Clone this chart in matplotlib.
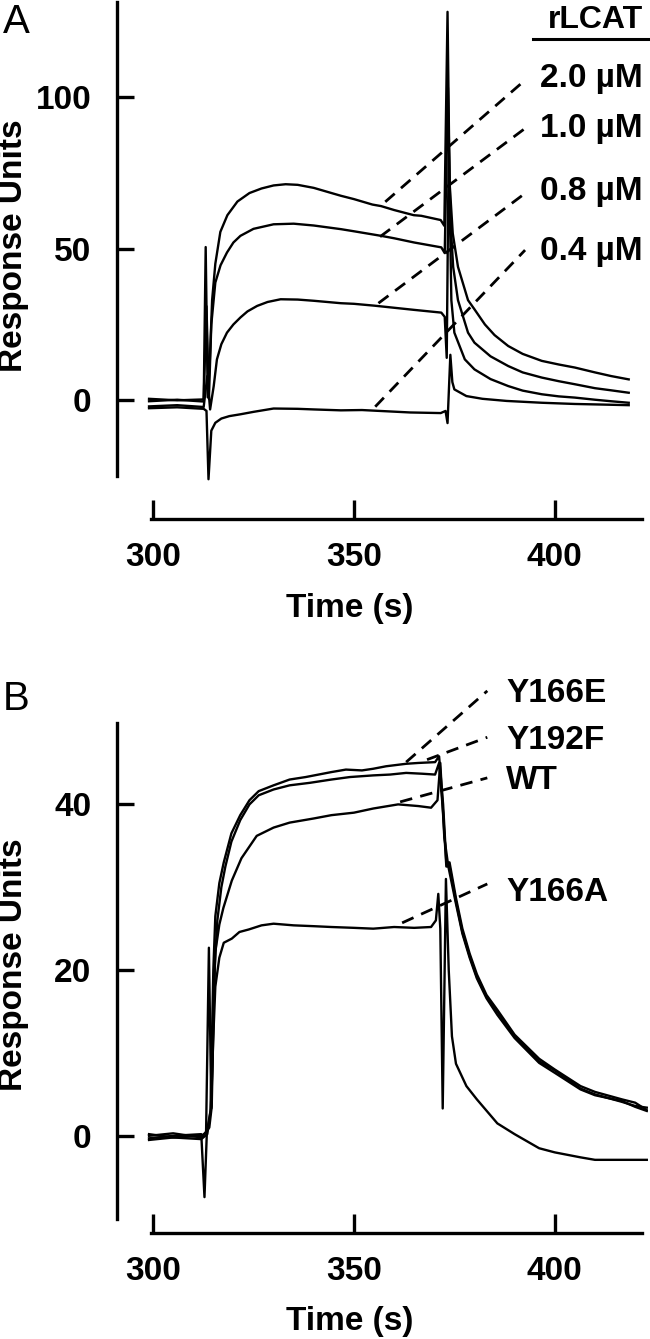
import matplotlib
matplotlib.use("Agg")
import matplotlib.pyplot as plt

plt.rcParams['font.family'] = ['Liberation Sans', 'DejaVu Sans']
plt.rcParams['lines.scale_dashes'] = False

# ---------------- datos: panel A (rLCAT) ----------------
a20_t = [299.0, 306.0, 312.6, 313.1, 313.6, 314.1, 314.7, 315.5, 316.75, 318.5, 321.0, 324.0, 327.0,
         330.0, 333.0, 336.0, 340.0, 344.4, 346.75, 350.0, 354.6, 356.75, 360.0, 364.9, 366.75, 371.6,
         372.5, 373.3, 373.8, 374.6, 375.9, 378.4, 380.0, 382.6, 385.0, 388.4, 392.0, 396.75, 401.0,
         405.0, 410.0, 414.0, 418.4]
a20_v = [-0.3, 0.2, -0.4, 50.5, 1.0, 12.0, 33.0, 45.0, 55.5, 61.0, 65.5, 68.3, 69.8,
         70.8, 71.2, 71.0, 70.0, 68.3, 67.4, 66.3, 64.5, 64.0, 62.7, 61.0, 60.8, 59.4,
         57.5, 128.0, 72.0, 55.0, 44.0, 33.0, 30.0, 25.0, 21.5, 17.9, 15.3, 13.0, 11.8,
         10.8, 9.2, 8.0, 6.9]

a10_t = [299.0, 306.0, 312.6, 313.3, 313.9, 314.5, 315.5, 316.8, 318.4, 320.0, 321.75, 325.0, 330.0,
         335.0, 340.0, 346.75, 350.0, 356.75, 360.0, 365.0, 371.75, 372.6, 373.4, 374.0, 374.7, 375.9,
         378.4, 380.0, 384.0, 388.4, 392.0, 396.75, 401.0, 405.0, 410.0, 414.0, 418.4]
a10_v = [0.5, 0.0, 0.3, 31.0, 0.5, 25.0, 38.8, 44.5, 48.7, 52.0, 54.2, 56.5, 58.0,
         58.2, 57.6, 56.4, 55.7, 54.2, 53.4, 52.0, 50.4, 48.5, 103.0, 60.0, 44.0, 33.0,
         22.3, 19.0, 14.5, 11.3, 9.2, 7.5, 6.3, 5.3, 4.0, 3.3, 2.5]

a08_t = [299.0, 306.0, 312.6, 313.5, 314.2, 315.1, 315.9, 317.0, 318.4, 320.0, 321.75, 323.5, 325.9,
         328.5, 331.75, 336.0, 340.0, 346.75, 350.0, 355.0, 360.0, 365.0, 371.75, 372.6, 373.1, 373.6,
         374.25, 375.0, 377.6, 380.0, 384.0, 388.4, 392.0, 396.75, 401.0, 405.0, 410.0, 414.0, 418.4]
a08_v = [-2.0, -1.6, -2.2, 8.0, -3.0, 4.7, 13.5, 18.5, 22.3, 25.0, 27.3, 29.3, 31.1,
         32.4, 33.3, 33.2, 32.8, 32.0, 31.8, 31.2, 30.5, 29.8, 28.9, 27.5, 14.0, 85.0,
         33.0, 22.3, 13.5, 10.2, 7.0, 4.7, 3.2, 2.0, 1.3, 0.9, 0.2, -0.3, -0.8]

a04_t = [299.0, 306.0, 312.6, 313.3, 313.8, 314.5, 315.5, 317.0, 319.0, 321.75, 325.0, 330.0, 336.0,
         340.0, 346.75, 352.0, 358.0, 364.0, 371.6, 372.8, 373.3, 374.0, 374.5, 375.0, 378.0, 382.0,
         388.0, 396.75, 405.0, 412.0, 418.4]
a04_v = [-2.6, -2.3, -2.8, -3.5, -26.0, -10.0, -7.4, -6.0, -5.2, -4.6, -3.8, -2.7, -2.8,
         -3.0, -3.3, -3.2, -3.6, -4.0, -4.2, -3.5, -7.5, 15.0, 6.0, 3.6, 1.4, 0.5,
         -0.2, -0.8, -1.2, -1.4, -1.6]

a_labels = ['2.0 \u00b5M', '1.0 \u00b5M', '0.8 \u00b5M', '0.4 \u00b5M']
# líneas guía (curva -> etiqueta)
a_lead_t = [(357.8, 392.6), (356.5, 392.6), (356.1, 392.6), (355.3, 392.6)]
a_lead_v = [(65.4, 105.5), (53.9, 89.6), (32.0, 68.2), (-2.1, 49.5)]

# ---------------- datos: panel B (mutantes) ----------------
b166e_t = [299.0, 305.0, 312.0, 312.8, 313.4, 314.3, 315.0, 315.5, 316.5, 317.6, 319.5, 321.7, 324.0,
           326.3, 330.0, 334.0, 338.0, 344.4, 348.0, 352.0, 354.8, 358.0, 363.0, 366.0, 370.2, 371.2,
           372.2, 373.0, 373.8, 375.4, 377.0, 378.8, 380.6, 383.0, 385.7, 390.0, 396.1, 400.0, 406.4,
           410.0, 416.7, 420.0, 422.9]
b166e_v = [-0.3, 0.0, 0.2, -7.4, 0.5, 3.0, 20.0, 26.5, 30.5, 33.0, 36.5, 38.7, 40.5,
           41.6, 42.3, 43.0, 43.3, 43.9, 44.2, 44.1, 44.3, 44.6, 44.9, 45.0, 45.1, 45.8,
           40.0, 33.0, 33.0, 28.7, 25.0, 22.0, 19.5, 17.0, 15.2, 12.2, 9.3, 8.0, 6.0,
           5.3, 4.4, 4.0, 3.1]

b192f_t = [299.0, 305.0, 312.0, 313.0, 314.0, 314.6, 315.3, 316.0, 317.0, 318.0, 319.5, 321.7, 324.0,
           326.3, 330.0, 334.0, 339.0, 344.4, 349.0, 354.8, 359.0, 363.0, 367.0, 370.2, 371.2, 372.2,
           373.0, 373.8, 375.4, 377.0, 378.8, 380.6, 383.0, 385.7, 390.0, 396.1, 400.0, 406.4, 410.0,
           416.7, 420.0, 422.9]
b192f_v = [0.2, -0.2, 0.0, 0.3, 1.0, 3.5, 20.0, 26.0, 30.0, 32.5, 35.5, 38.1, 40.0,
           41.1, 41.8, 42.3, 42.6, 43.0, 43.3, 43.5, 43.6, 43.8, 43.7, 43.6, 45.0, 39.0,
           32.5, 32.5, 28.3, 24.6, 21.7, 19.2, 16.8, 15.0, 12.0, 9.0, 7.9, 5.7, 5.0,
           4.1, 3.6, 3.4]

bwt_t = [299.0, 305.0, 312.0, 313.2, 313.9, 314.5, 315.0, 315.5, 316.5, 317.5, 319.6, 322.0, 325.8,
         330.0, 334.0, 340.0, 344.4, 350.0, 354.8, 361.0, 366.0, 369.2, 370.8, 371.5, 372.5, 373.5,
         375.4, 377.0, 378.8, 380.6, 383.0, 385.7, 390.0, 396.1, 400.0, 406.4, 410.0, 416.7, 420.0,
         422.9]
bwt_v = [0.0, 0.3, -0.2, 0.5, 22.7, 3.3, 14.0, 22.2, 25.5, 27.5, 30.8, 33.5, 36.2,
         37.2, 37.8, 38.3, 38.7, 39.0, 39.5, 40.0, 39.8, 39.6, 40.5, 45.0, 36.0, 32.5,
         28.0, 24.4, 21.5, 19.0, 16.6, 14.6, 11.8, 8.8, 7.6, 5.6, 4.9, 4.2, 3.5,
         3.0]

b166a_t = [299.0, 305.0, 312.0, 313.5, 314.4, 315.0, 315.5, 316.5, 317.6, 319.6, 321.5, 323.8, 327.0,
           330.0, 335.0, 340.0, 344.4, 350.0, 354.8, 360.0, 365.0, 369.2, 370.4, 371.0, 371.5, 372.1,
           372.9, 373.6, 374.4, 375.4, 378.0, 380.6, 385.7, 390.0, 396.1, 400.0, 406.4, 410.0, 416.7,
           422.9]
b166a_v = [-0.5, -0.2, -0.4, 0.2, 3.3, 12.0, 18.0, 21.5, 23.3, 23.8, 24.6, 24.9, 25.4,
           25.6, 25.4, 25.3, 25.2, 25.1, 25.0, 25.2, 25.1, 25.2, 26.0, 29.2, 25.0, 3.3,
           31.0, 20.0, 12.0, 8.7, 6.0, 4.4, 1.5, 0.2, -1.5, -2.0, -2.6, -2.9, -2.9,
           -2.9]

b_labels = ['Y166E', 'Y192F', 'WT', 'Y166A']
b_lead_t = [(363.0, 383.2), (368.2, 383.2), (361.5, 383.2), (362.0, 383.2)]
b_lead_v = [(45.1, 53.7), (45.4, 48.1), (40.3, 43.2), (25.7, 30.4)]

x_ticks = [300, 350, 400]
a_yticks = [0, 50, 100]
b_yticks = [0, 20, 40]

W, H = 650, 1339
fig = plt.figure(figsize=(W / 100, H / 100), dpi=100)


def fx(px):
    return px / W


def fy(py):
    return 1 - py / H


def estilo(ax, yticks, ybounds):
    for s in ['top', 'right']:
        ax.spines[s].set_visible(False)
    for s in ['left', 'bottom']:
        ax.spines[s].set_linewidth(2.4)
    ax.spines['left'].set_bounds(*ybounds)
    ax.spines['bottom'].set_bounds(299.6, 421.6)
    ax.set_xticks(x_ticks)
    ax.set_yticks(yticks)
    ax.tick_params(axis='y', direction='in', length=12, width=2.4, pad=18.5, labelsize=24)
    ax.tick_params(axis='x', direction='in', length=14, width=2.4, pad=16.5, labelsize=24)
    for lab in ax.get_xticklabels() + ax.get_yticklabels():
        lab.set_fontweight('bold')


# ---------------- panel A ----------------
axA = fig.add_axes([fx(117.3), fy(519), fx(648 - 117.3), 519 / H])
axA.set_xlim(291.1, 423.2)
axA.set_ylim(-39.1, 131.9)
for t, v in [(a20_t, a20_v), (a10_t, a10_v), (a08_t, a08_v), (a04_t, a04_v)]:
    axA.plot(t, v, color='black', lw=1.7)
for t, v in zip(a_lead_t, a_lead_v):
    axA.plot(t, v, color='black', lw=2.0, linestyle=(0, (9, 6)))
estilo(axA, a_yticks, (-24.9, 131.2))

fig.text(fx(643), fy(28.3), 'rLCAT', ha='right', va='baseline', fontsize=23, fontweight='bold')
fig.add_artist(plt.Line2D([fx(533), fx(648)], [fy(39.3), fy(39.3)], color='black', lw=2.2))
for lab, yb in zip(a_labels, [87, 137, 200, 260]):
    fig.text(fx(643), fy(yb), lab, ha='right', va='baseline', fontsize=24, fontweight='bold')

fig.text(fx(3), fy(33.3), 'A', ha='left', va='baseline', fontsize=29)
fig.text(fx(14), fy(246), 'Response Units', rotation=90, ha='center', va='center',
         fontsize=24, fontweight='bold')
fig.text(fx(350), fy(617), 'Time (s)', ha='center', va='baseline', fontsize=24, fontweight='bold')

# ---------------- panel B ----------------
axB = fig.add_axes([fx(117.3), fy(1233), fx(648 - 117.3), (1233 - 640) / H])
axB.set_xlim(291.1, 423.2)
axB.set_ylim(-11.73, 59.84)
for t, v in [(b166e_t, b166e_v), (b192f_t, b192f_v), (bwt_t, bwt_v), (b166a_t, b166a_v)]:
    axB.plot(t, v, color='black', lw=1.7)
for t, v in zip(b_lead_t, b_lead_v):
    axB.plot(t, v, color='black', lw=2.0, linestyle=(0, (9, 6)))
estilo(axB, b_yticks, (-10.1, 49.8))

for lab, yb in zip(b_labels, [702, 749, 789, 901]):
    fig.text(fx(506), fy(yb), lab, ha='left', va='baseline', fontsize=24, fontweight='bold')

fig.text(fx(3), fy(710), 'B', ha='left', va='baseline', fontsize=29)
fig.text(fx(14), fy(965), 'Response Units', rotation=90, ha='center', va='center',
         fontsize=24, fontweight='bold')
fig.text(fx(350), fy(1330), 'Time (s)', ha='center', va='baseline', fontsize=24, fontweight='bold')

fig.savefig('out.png', dpi=100, facecolor='white')
